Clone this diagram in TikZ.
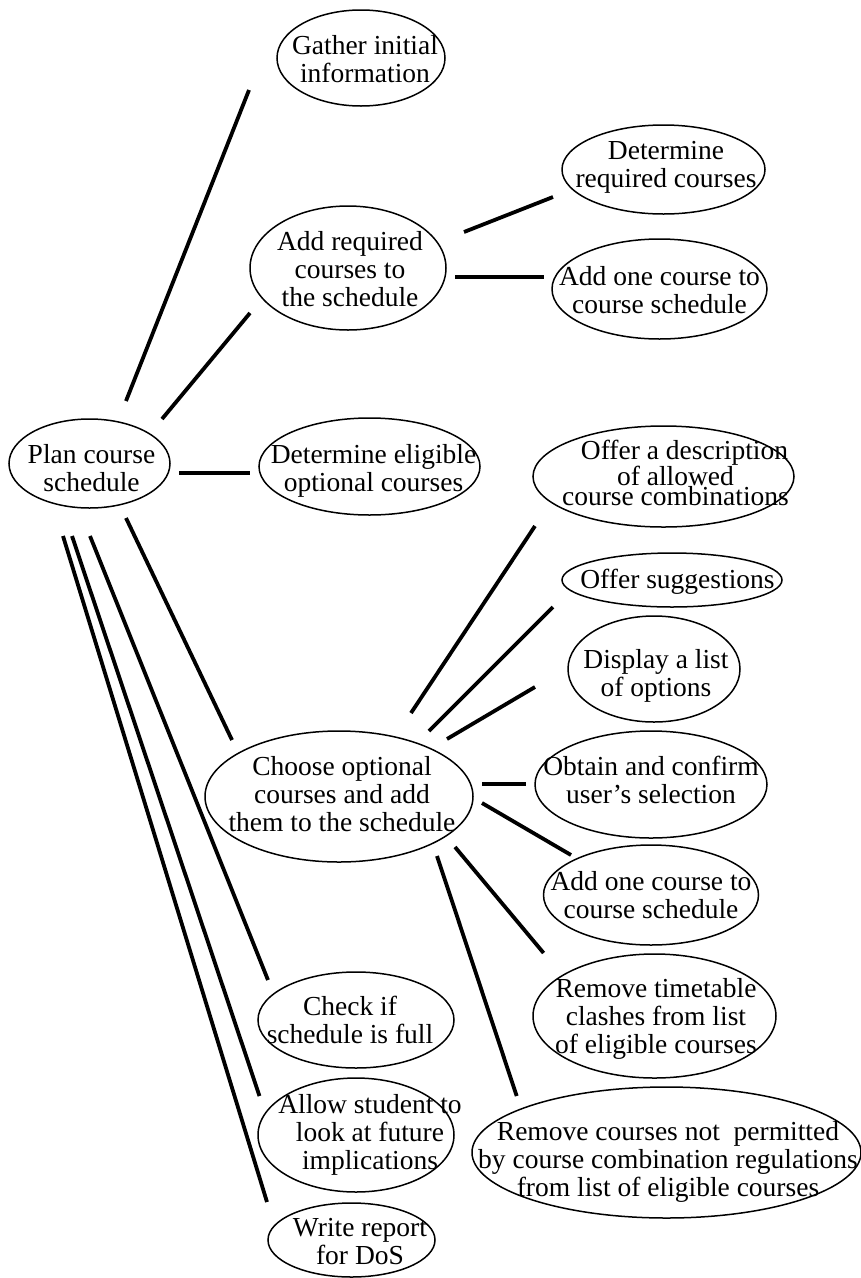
\documentclass[tikz,border=0pt]{standalone}
\usepackage{fontspec}
\setmainfont{Liberation Serif}
\usetikzlibrary{shapes.geometric}
\begin{document}
\begin{tikzpicture}[x=1pt,y=-1pt,
  uc/.style={draw, ellipse, line width=1.5pt, inner sep=0pt},
  lbl/.style={align=center, inner sep=0pt, font=\fontsize{27.5}{28}\selectfont},
  conn/.style={line width=3.8pt}]
\useasboundingbox (0,0) rectangle (861,1278);

% ---- use-case ellipses ----
\node[uc, minimum width=168pt, minimum height=96pt]  (gather)  at (361,58)     {};
\node[uc, minimum width=196pt, minimum height=124pt] (addreq)  at (348,268)    {};
\node[uc, minimum width=161pt, minimum height=89pt]  (plan)    at (89.5,463.5) {};
\node[uc, minimum width=221pt, minimum height=97pt]  (deteli)  at (369.5,466.5){};
\node[uc, minimum width=268pt, minimum height=131pt] (choose)  at (339,796.5)  {};
\node[uc, minimum width=203pt, minimum height=89pt]  (detreq)  at (663.5,169.5){};
\node[uc, minimum width=215pt, minimum height=100pt] (addone1) at (659.5,289)  {};
\node[uc, minimum width=261pt, minimum height=101pt] (offdesc) at (663.5,476.5){};
\node[uc, minimum width=220pt, minimum height=54pt]  (offsug)  at (672,580)    {};
\node[uc, minimum width=172pt, minimum height=106pt] (display) at (654,669)    {};
\node[uc, minimum width=232pt, minimum height=107pt] (obtain)  at (651,784.5)  {};
\node[uc, minimum width=215pt, minimum height=100pt] (addone2) at (651,895)    {};
\node[uc, minimum width=243pt, minimum height=124pt] (remtt)   at (654.5,1016) {};
\node[uc, minimum width=389pt, minimum height=131pt] (remcc)   at (666.5,1152.5){};
\node[uc, minimum width=196pt, minimum height=96pt]  (check)   at (356,1020)   {};
\node[uc, minimum width=196pt, minimum height=114pt] (allow)   at (356,1135)   {};
\node[uc, minimum width=167pt, minimum height=74pt]  (write)   at (351.5,1240) {};

% ---- texts ----
\node[lbl] (gather-t)  at (365,59)    {Gather initial\\information};
\node[lbl] (addreq-t)  at (350,268.6) {Add required\\courses to\\the schedule};
\node[lbl] (plan-t)    at (91.5,468)  {Plan course\\schedule};
\node[lbl] (deteli-t)  at (373.5,470.7){Determine eligible\\optional courses};
\node[lbl] (choose-t)  at (342,794)   {Choose optional\\courses and add\\them to the schedule};
\node[lbl] (detreq-t)  at (666,167.6) {Determine\\required courses};
\node[lbl] (addone1-t) at (659.5,289.6){Add one course to\\course schedule};
\node[lbl, font=\fontsize{27.5}{19.5}\selectfont] (offdesc-t) at (675.5,473)
  {\hspace*{18pt}Offer a description\\of allowed\\course combinations};
\node[lbl] (offsug-t)  at (677.5,581.6){Offer suggestions};
\node[lbl] (display-t) at (656,676)   {Display a list\\of options};
\node[lbl] (obtain-t)  at (651,779.6) {Obtain and confirm\\user's selection};
\node[lbl] (addone2-t) at (651,894.6) {Add one course to\\course schedule};
\node[lbl] (remtt-t)   at (656,1018.6){Remove timetable\\clashes from list\\of eligible courses};
\node[lbl] (remcc-t)   at (668,1161.6){Remove courses not\ \ permitted\\by course combination regulations\\from list of eligible courses};
\node[lbl] (check-t)   at (350,1019.6){Check if\\schedule is full};
\node[lbl] (allow-t)   at (370,1134.6){Allow student to\\look at future\\implications};
\node[lbl] (write-t)   at (360,1242)  {Write report\\for DoS};

% ---- connector end points (lines stop short of the ellipses) ----
\coordinate (plan-gather-a)  at (126,401);   \coordinate (plan-gather-b)  at (249,90);
\coordinate (plan-addreq-a)  at (162,419);   \coordinate (plan-addreq-b)  at (250,313);
\coordinate (plan-deteli-a)  at (179,473);   \coordinate (plan-deteli-b)  at (250,473);
\coordinate (plan-choose-a)  at (126,518);   \coordinate (plan-choose-b)  at (232,740);
\coordinate (plan-check-a)   at (90,536);    \coordinate (plan-check-b)   at (268,980);
\coordinate (plan-allow-a)   at (72,536);    \coordinate (plan-allow-b)   at (259.5,1096);
\coordinate (plan-write-a)   at (63,536);    \coordinate (plan-write-b)   at (267,1202);
\coordinate (addreq-detreq-a) at (464,232);  \coordinate (addreq-detreq-b) at (553,197);
\coordinate (addreq-addone-a) at (455,277);  \coordinate (addreq-addone-b) at (544,277);
\coordinate (choose-offdesc-a) at (411,713); \coordinate (choose-offdesc-b) at (535,526);
\coordinate (choose-offsug-a)  at (429,731); \coordinate (choose-offsug-b)  at (553,607);
\coordinate (choose-display-a) at (447,739); \coordinate (choose-display-b) at (535,687);
\coordinate (choose-obtain-a)  at (482,784); \coordinate (choose-obtain-b)  at (526,784);
\coordinate (choose-addone-a)  at (482,803); \coordinate (choose-addone-b)  at (571,855);
\coordinate (choose-remtt-a)   at (455,847); \coordinate (choose-remtt-b)   at (543.6,953);
\coordinate (choose-remcc-a)   at (437,856); \coordinate (choose-remcc-b)   at (516.7,1096);

% ---- connectors ----
\foreach \c in {plan-gather,plan-addreq,plan-deteli,plan-choose,plan-check,plan-allow,plan-write,
  addreq-detreq,addreq-addone,choose-offdesc,choose-offsug,choose-display,choose-obtain,
  choose-addone,choose-remtt,choose-remcc}
  \draw[conn] (\c-a) -- (\c-b);
\end{tikzpicture}
\end{document}
